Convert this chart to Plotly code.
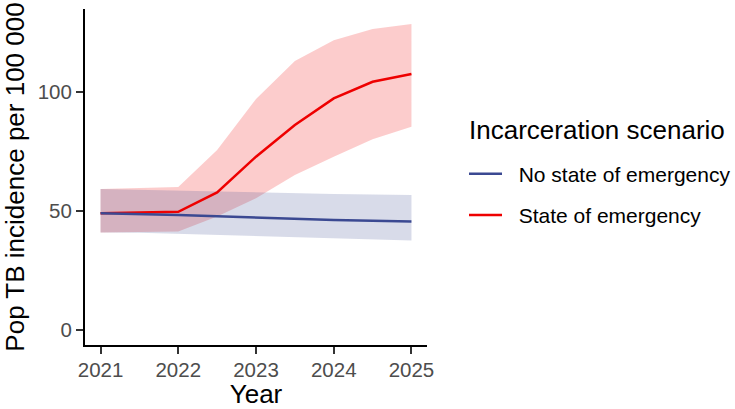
import plotly.graph_objects as go

# Projection years (half-year steps)
years = [2021, 2021.5, 2022, 2022.5, 2023, 2023.5, 2024, 2024.5, 2025]

# No state of emergency: median and uncertainty interval
no_soe_mid = [49.0, 48.7, 48.3, 47.7, 47.1, 46.6, 46.2, 45.8, 45.5]
no_soe_lo = [40.9, 40.8, 40.6, 40.0, 39.5, 39.0, 38.5, 38.0, 37.5]
no_soe_hi = [59.2, 58.8, 58.5, 58.1, 57.8, 57.4, 57.1, 56.9, 56.7]

# State of emergency: median and uncertainty interval
soe_mid = [49.0, 49.2, 49.6, 57.8, 72.8, 86.1, 97.3, 104.3, 107.6]
soe_lo = [40.9, 41.1, 41.3, 47.6, 55.3, 65.1, 72.8, 80.1, 85.4]
soe_hi = [59.2, 59.6, 60.0, 75.6, 97.0, 113.0, 121.8, 126.5, 128.6]

x_ticks = [2021, 2022, 2023, 2024, 2025]
y_ticks = [0, 50, 100]

BLUE = "#3B4992"
RED = "#EE0000"
FONT = "Helvetica, Liberation Sans, Arial, sans-serif"
PAD = "\u00a0\u00a0"  # small gap between legend key and label


def band(x, lo, hi, fill):
    return go.Scatter(
        x=list(x) + list(x)[::-1],
        y=list(hi) + list(lo)[::-1],
        fill="toself",
        fillcolor=fill,
        line=dict(width=0),
        mode="lines",
        hoverinfo="skip",
        showlegend=False,
    )


fig = go.Figure()
fig.add_trace(band(years, soe_lo, soe_hi, "rgba(238,0,0,0.2)"))
fig.add_trace(band(years, no_soe_lo, no_soe_hi, "rgba(59,73,146,0.2)"))
fig.add_trace(go.Scatter(
    x=years, y=soe_mid, mode="lines", name=PAD + "State of emergency",
    line=dict(color=RED, width=2.5), legendgroup="b", legendrank=2,
))
fig.add_trace(go.Scatter(
    x=years, y=no_soe_mid, mode="lines", name=PAD + "No state of emergency",
    line=dict(color=BLUE, width=2.5), legendgroup="a", legendrank=1,
))

axis_common = dict(
    showline=True, linecolor="black", linewidth=2,
    ticks="outside", ticklen=7, tickwidth=2, tickcolor="#333333",
    showgrid=False, zeroline=False, automargin=False,
    tickfont=dict(size=20.5, color="#4D4D4D", family=FONT),
)

fig.update_layout(
    width=735, height=409,
    margin=dict(l=85, r=308, t=9, b=64),
    plot_bgcolor="white", paper_bgcolor="white",
    font=dict(family=FONT, color="black"),
    xaxis=dict(
        range=[2020.8, 2025.2], tickvals=x_ticks, ticklabelstandoff=-2,
        title=dict(text="Year", font=dict(size=26), standoff=3),
        **axis_common,
    ),
    yaxis=dict(
        range=[-6.4, 134.9], tickvals=y_ticks,
        title=dict(text="Pop TB incidence per 100 000", font=dict(size=26), standoff=6),
        **axis_common,
    ),
    legend=dict(
        font=dict(size=21),
        xref="container", yref="container",
        x=0.6313, xanchor="left", y=0.6247, yanchor="top",
        traceorder="grouped", tracegroupgap=11, itemwidth=33,
        bgcolor="rgba(0,0,0,0)",
    ),
    annotations=[dict(
        text="Incarceration scenario", xref="paper", yref="paper",
        x=1.117, xanchor="left", y=0.64, yanchor="middle",
        showarrow=False, font=dict(size=26, color="black"),
    )],
)

fig.write_html("out.html")
